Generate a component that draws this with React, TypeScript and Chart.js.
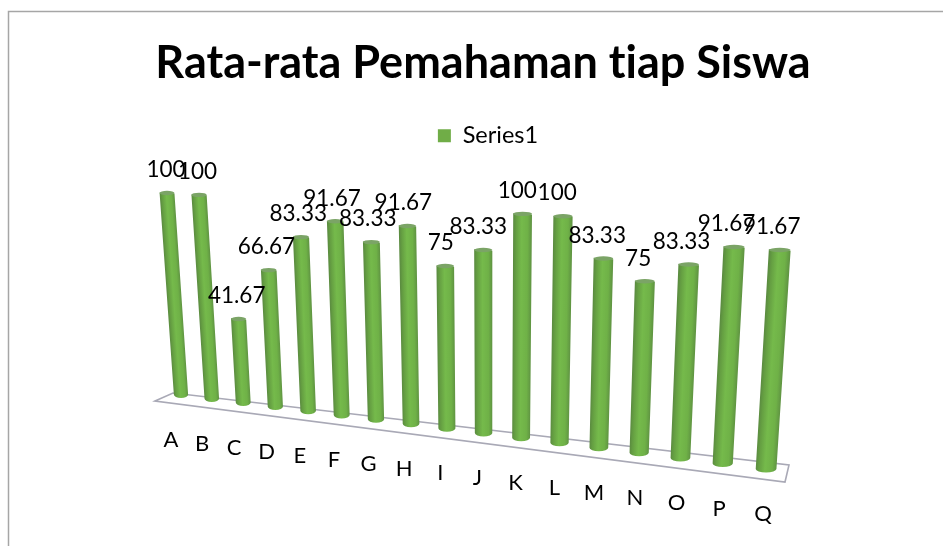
import React, { useEffect, useRef } from "react";
import { Chart, registerables } from "chart.js";

Chart.register(...registerables);

const categories = ["A","B","C","D","E","F","G","H","I","J","K","L","M","N","O","P","Q"];
const series1 = [100,100,41.67,66.67,83.33,91.67,83.33,91.67,75,83.33,100,100,83.33,75,83.33,91.67,91.67];
const valueLabels = ["100","100","41.67","66.67","83.33","91.67","83.33","91.67","75","83.33","100","100","83.33","75","83.33","91.67","91.67"];

type P = [number, number];
// Quad the plot rectangle is projected on: first base, last base, last at 100, first at 100
const QUAD: P[] = [[181, 394.5], [766, 469], [781, 229], [167, 193]];
const FLOOR: P[] = [[155, 401], [173, 393], [789, 465], [785, 482]];

function makeHomography(q: P[]) {
  const [[x0, y0], [x1, y1], [x2, y2], [x3, y3]] = q;
  const dx1 = x1 - x2, dx2 = x3 - x2, sx = x0 - x1 + x2 - x3;
  const dy1 = y1 - y2, dy2 = y3 - y2, sy = y0 - y1 + y2 - y3;
  const den = dx1 * dy2 - dx2 * dy1;
  const g = (sx * dy2 - dx2 * sy) / den;
  const h = (dx1 * sy - sx * dy1) / den;
  const a = x1 - x0 + g * x1, b = x3 - x0 + h * x3;
  const d = y1 - y0 + g * y1, e = y3 - y0 + h * y3;
  return (u: number, v: number): P => {
    const w = g * u + h * v + 1;
    return [(a * u + b * v + x0) / w, (d * u + e * v + y0) / w];
  };
}
const project = makeHomography(QUAD);

const perspectivePlugin = {
  id: "perspective",
  afterLayout(chart: any) {
    if (chart.legend) {
      chart.legend.left += 5;
      chart.legend.right += 5;
    }
  },
  beforeDraw(chart: any) {
    const { ctx, width, height } = chart;
    ctx.textRendering = "optimizeSpeed";
    ctx.save();
    ctx.fillStyle = "#ffffff";
    ctx.fillRect(0, 0, width, height);
    ctx.strokeStyle = "#a6a6a6";
    ctx.lineWidth = 1.5;
    ctx.beginPath();
    ctx.moveTo(8.5, height);
    ctx.lineTo(8.5, 11.5);
    ctx.lineTo(width, 11.5);
    ctx.stroke();
    ctx.restore();
  },
  beforeDatasetsDraw(chart: any) {
    const { ctx } = chart;
    ctx.save();
    ctx.filter = "blur(0.5px)";
    ctx.strokeStyle = "#a9a9b6";
    ctx.lineWidth = 1.6;
    ctx.beginPath();
    FLOOR.forEach((p, i) => (i ? ctx.lineTo(p[0], p[1]) : ctx.moveTo(p[0], p[1])));
    ctx.closePath();
    ctx.stroke();
    ctx.restore();
  },
  beforeDatasetDraw(chart: any, args: any) {
    const { ctx, scales } = chart;
    const xs = scales.x, ys = scales.y;
    const x0 = xs.getPixelForValue(0), x1 = xs.getPixelForValue(categories.length - 1);
    const yb = ys.getPixelForValue(0), yt = ys.getPixelForValue(100);
    const map = (px: number, py: number) => project((px - x0) / (x1 - x0), (py - yb) / (yt - yb));
    ctx.save();
    ctx.filter = "blur(0.6px)";
    args.meta.data.forEach((bar: any) => {
      const hw = bar.width / 2;
      const bl = map(bar.x - hw, bar.base), br = map(bar.x + hw, bar.base);
      const tl = map(bar.x - hw, bar.y), tr = map(bar.x + hw, bar.y);
      const bc: P = [(bl[0] + br[0]) / 2, (bl[1] + br[1]) / 2];
      const tc: P = [(tl[0] + tr[0]) / 2, (tl[1] + tr[1]) / 2];
      const rxB = (br[0] - bl[0]) / 2, rxT = (tr[0] - tl[0]) / 2;
      // Gradient runs across the tilted bar, so it follows its axis
      const ax = bc[0] - tc[0], ay = bc[1] - tc[1];
      const len = Math.hypot(ax, ay);
      const nx = ay / len, ny = -ax / len;
      const midx = (tc[0] + bc[0]) / 2, midy = (tc[1] + bc[1]) / 2;
      const r = (rxB + rxT) / 2;
      const g2 = ctx.createLinearGradient(midx - nx * r, midy - ny * r, midx + nx * r, midy + ny * r);
      g2.addColorStop(0, "#5a8a40");
      g2.addColorStop(0.16, "#659f42");
      g2.addColorStop(0.45, "#75ba4b");
      g2.addColorStop(0.78, "#6fb147");
      g2.addColorStop(1, "#5f9342");
      ctx.fillStyle = g2;
      ctx.beginPath();
      ctx.moveTo(tl[0], tl[1]);
      ctx.lineTo(tr[0], tr[1]);
      ctx.lineTo(br[0], br[1]);
      ctx.ellipse(bc[0], bc[1], rxB, 3.5, 0, 0, Math.PI);
      ctx.lineTo(tl[0], tl[1]);
      ctx.closePath();
      ctx.fill();
      ctx.fillStyle = "#7ba466";
      ctx.beginPath();
      ctx.ellipse(tc[0], tc[1], rxT, 2.2, 0, 0, Math.PI * 2);
      ctx.fill();
    });
    ctx.restore();
    return false;
  },
  afterDatasetsDraw(chart: any) {
    const { ctx, scales } = chart;
    const xs = scales.x, ys = scales.y;
    const x0 = xs.getPixelForValue(0), x1 = xs.getPixelForValue(categories.length - 1);
    const yb = ys.getPixelForValue(0), yt = ys.getPixelForValue(100);
    ctx.save();
    ctx.fillStyle = "#000000";
    ctx.textAlign = "center";
    ctx.textBaseline = "middle";
    chart.getDatasetMeta(0).data.forEach((bar: any, i: number) => {
      const u = (bar.x - x0) / (x1 - x0);
      const top = project(u, (bar.y - yb) / (yt - yb));
      const base = project(u, 0);
      ctx.font = "22.5px Lato";
      ctx.fillText(valueLabels[i], top[0] - 1 - 7 * u, top[1] - 23);
      ctx.font = "22px Lato";
      ctx.fillText(xs.getLabelForValue(i), base[0] - 10 + 7 * u, base[1] + 45);
    });
    ctx.restore();
  },
};

export default function App() {
  const ref = useRef<HTMLCanvasElement | null>(null);
  useEffect(() => {
    document.body.style.margin = "0";
    const chart = new Chart(ref.current as HTMLCanvasElement, {
      type: "bar",
      data: {
        labels: categories,
        datasets: [{ label: "Series1", data: series1, backgroundColor: "#70ad47", borderWidth: 0, barPercentage: 0.47, categoryPercentage: 1 }],
      },
      options: {
        responsive: false,
        animation: false,
        layout: { padding: { left: 23 } },
        scales: {
          x: { display: false },
          y: { display: false, min: 0, max: 100 },
        },
        plugins: {
          title: {
            display: true,
            text: "Rata-rata Pemahaman tiap Siswa",
            color: "#000000",
            font: { family: "Lato", size: 45, weight: "bold" },
            padding: { top: 36, bottom: 24 },
          },
          legend: {
            position: "top",
            labels: { color: "#000000", font: { family: "Lato", size: 23.5 }, boxWidth: 13, boxHeight: 13, padding: 10 },
          },
          tooltip: { enabled: false },
        },
      },
      plugins: [perspectivePlugin],
    } as any);
    return () => chart.destroy();
  }, []);
  return <canvas ref={ref} width={943} height={546} style={{ display: "block" }} />;
}
